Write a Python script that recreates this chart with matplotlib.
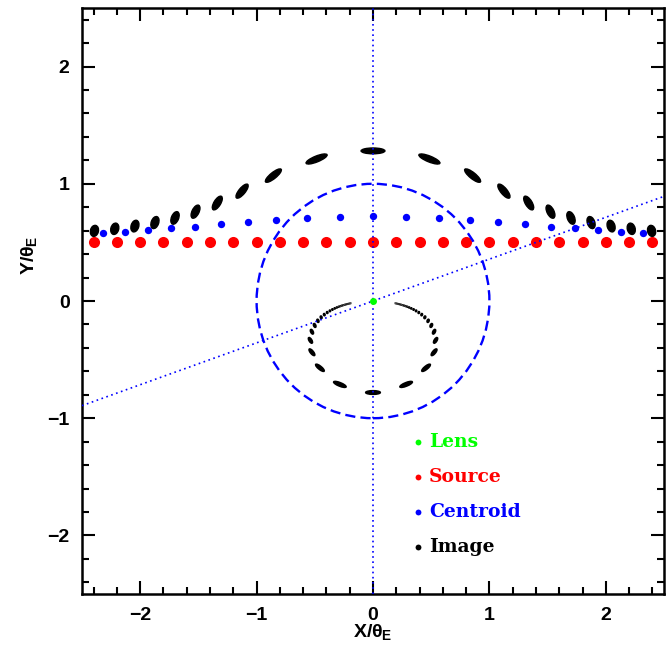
import numpy as np
import matplotlib.pyplot as plt
from matplotlib.patches import Ellipse, Circle
from matplotlib.ticker import MultipleLocator

plt.rcParams['font.family'] = 'Liberation Sans'
plt.rcParams['font.weight'] = 'bold'
plt.rcParams['mathtext.fontset'] = 'custom'
plt.rcParams['mathtext.rm'] = 'Liberation Sans:bold'
plt.rcParams['mathtext.it'] = 'Liberation Sans:bold'
plt.rcParams['mathtext.bf'] = 'Liberation Sans:bold'

# source track (y = 0.5)
src_x = [-2.4, -2.2, -2.0, -1.8, -1.6, -1.4, -1.2, -1.0, -0.8, -0.6, -0.4, -0.2, 0.0,
         0.2, 0.4, 0.6, 0.8, 1.0, 1.2, 1.4, 1.6, 1.8, 2.0, 2.2, 2.4]
src_y = 0.5

# light centroid positions
cen_x = [-2.3200, -2.1279, -1.9326, -1.7325, -1.5252, -1.3077, -1.0768, -0.8299, -0.5660, -0.2873, 0.0,
         0.2873, 0.5660, 0.8299, 1.0768, 1.3077, 1.5252, 1.7325, 1.9326, 2.1279, 2.3200]
cen_y = [0.5800, 0.5911, 0.6040, 0.6188, 0.6355, 0.6538, 0.6730, 0.6916, 0.7075, 0.7183, 0.7222,
         0.7183, 0.7075, 0.6916, 0.6730, 0.6538, 0.6355, 0.6188, 0.6040, 0.5911, 0.5800]

# major (outer) images: centre, size along / across the ring, tilt in degrees
maj_x = [-2.3933, -2.2185, -2.0454, -1.8734, -1.7009, -1.5247, -1.3376, -1.1247, -0.8559, -0.4846, 0.0,
         0.4846, 0.8559, 1.1247, 1.3376, 1.5247, 1.7009, 1.8734, 2.0454, 2.2185, 2.3933]
maj_y = [0.5983, 0.6162, 0.6392, 0.6691, 0.7087, 0.7623, 0.8360, 0.9373, 1.0699, 1.2116, 1.2808,
         1.2116, 1.0699, 0.9373, 0.8360, 0.7623, 0.7087, 0.6691, 0.6392, 0.6162, 0.5983]
maj_w = [0.0957, 0.0986, 0.1023, 0.1071, 0.1134, 0.1220, 0.1338, 0.1500, 0.1712, 0.1938, 0.2049,
         0.1938, 0.1712, 0.1500, 0.1338, 0.1220, 0.1134, 0.1071, 0.1023, 0.0986, 0.0957]
maj_h = [0.0687, 0.0673, 0.0657, 0.0639, 0.0618, 0.0595, 0.0571, 0.0546, 0.0522, 0.0504, 0.0497,
         0.0504, 0.0522, 0.0546, 0.0571, 0.0595, 0.0618, 0.0639, 0.0657, 0.0673, 0.0687]
maj_ang = [76.0, 74.5, 72.6, 70.3, 67.4, 63.4, 58.0, 50.2, 38.7, 21.8, 0.0,
           -21.8, -38.7, -50.2, -58.0, -63.4, -67.4, -70.3, -72.6, -74.5, -76.0]

# minor (inner) images, also from sources outside the frame
min_x = [0.1907, 0.1979, 0.2057, 0.2140, 0.2229, 0.2326, 0.2431, 0.2545, 0.2669, 0.2805, 0.2953, 0.3115, 0.3292,
         0.3487, 0.3700, 0.3933, 0.4185, 0.4454, 0.4734, 0.5009, 0.5247, 0.5376, 0.5247, 0.4559, 0.2846, 0.0,
         -0.2846, -0.4559, -0.5247, -0.5376, -0.5247, -0.5009, -0.4734, -0.4454, -0.4185, -0.3933, -0.3700, -0.3487,
         -0.3292, -0.3115, -0.2953, -0.2805, -0.2669, -0.2545, -0.2431, -0.2326, -0.2229, -0.2140, -0.2057, -0.1979, -0.1907]
min_y = [-0.0191, -0.0206, -0.0224, -0.0243, -0.0265, -0.0291, -0.0320, -0.0354, -0.0393, -0.0438, -0.0492, -0.0556, -0.0633,
         -0.0726, -0.0841, -0.0983, -0.1163, -0.1392, -0.1691, -0.2087, -0.2623, -0.3360, -0.4373, -0.5699, -0.7116, -0.7808,
         -0.7116, -0.5699, -0.4373, -0.3360, -0.2623, -0.2087, -0.1691, -0.1392, -0.1163, -0.0983, -0.0841, -0.0726,
         -0.0633, -0.0556, -0.0492, -0.0438, -0.0393, -0.0354, -0.0320, -0.0291, -0.0265, -0.0243, -0.0224, -0.0206, -0.0191]
min_w = [0.0031, 0.0033, 0.0036, 0.0039, 0.0042, 0.0047, 0.0051, 0.0057, 0.0063, 0.0070, 0.0079, 0.0089, 0.0101,
         0.0116, 0.0135, 0.0157, 0.0186, 0.0223, 0.0271, 0.0334, 0.0420, 0.0538, 0.0700, 0.0912, 0.1138, 0.1249,
         0.1138, 0.0912, 0.0700, 0.0538, 0.0420, 0.0334, 0.0271, 0.0223, 0.0186, 0.0157, 0.0135, 0.0116,
         0.0101, 0.0089, 0.0079, 0.0070, 0.0063, 0.0057, 0.0051, 0.0047, 0.0042, 0.0039, 0.0036, 0.0033, 0.0031]
min_h = [0.0028, 0.0030, 0.0033, 0.0035, 0.0038, 0.0042, 0.0045, 0.0050, 0.0054, 0.0060, 0.0066, 0.0073, 0.0081,
         0.0090, 0.0101, 0.0113, 0.0127, 0.0143, 0.0161, 0.0182, 0.0205, 0.0229, 0.0254, 0.0278, 0.0296, 0.0303,
         0.0296, 0.0278, 0.0254, 0.0229, 0.0205, 0.0182, 0.0161, 0.0143, 0.0127, 0.0113, 0.0101, 0.0090,
         0.0081, 0.0073, 0.0066, 0.0060, 0.0054, 0.0050, 0.0045, 0.0042, 0.0038, 0.0035, 0.0033, 0.0030, 0.0028]
min_ang = [84.3, 84.1, 83.8, 83.5, 83.2, 82.9, 82.5, 82.1, 81.6, 81.1, 80.5, 79.9, 79.1,
           78.2, 77.2, 76.0, 74.5, 72.6, 70.3, 67.4, 63.4, 58.0, 50.2, 38.7, 21.8, 0.0,
           -21.8, -38.7, -50.2, -58.0, -63.4, -67.4, -70.3, -72.6, -74.5, -76.0, -77.2, -78.2,
           -79.1, -79.9, -80.5, -81.1, -81.6, -82.1, -82.5, -82.9, -83.2, -83.5, -83.8, -84.1, -84.3]

einstein_r = 1.0
ref_src = (1.4, 0.5)   # source position the dotted line points at

legend_labels = ['Lens', 'Source', 'Centroid', 'Image']
legend_colors = ['#00ff00', '#ff0000', '#0000ff', '#000000']

fig = plt.figure(figsize=(6.66, 6.52), dpi=100)
ax = fig.add_axes([82/666, 58/652, 582/666, 586/652])

ax.plot(src_x, [src_y]*len(src_x), 'o', color='#ff0000', ms=8, mec='none', zorder=2)
ax.plot(cen_x, cen_y, 'o', color='#0000ff', ms=5.3, mec='none', zorder=2)

for x, y, w, h, a in zip(maj_x, maj_y, maj_w, maj_h, maj_ang):
    ax.add_patch(Ellipse((x, y), w, h, angle=a, fc='black', ec='black', lw=1.0, zorder=3))
for x, y, w, h, a in zip(min_x, min_y, min_w, min_h, min_ang):
    ax.add_patch(Ellipse((x, y), w, h, angle=a, fc='black', ec='black', lw=1.2, zorder=3))

ax.add_patch(Circle((0, 0), einstein_r, fill=False, ec='#0000ff', lw=1.7,
                    ls=(0, (4.3, 2.2)), zorder=4))
ax.axvline(0, color='#0000ff', lw=1.2, ls=(0, (1, 2.1)), zorder=5)
ax.axline((0, 0), ref_src, color='#0000ff', lw=1.2, ls=(0, (1, 2.1)), zorder=5)
ax.plot(0, 0, 'o', color='#00ff00', ms=5, mec='none', zorder=6)

for i, (lab, col) in enumerate(zip(legend_labels, legend_colors)):
    yy = -1.2 - 0.3*i
    ax.plot(0.39, yy, 'o', color=col, ms=4.2, mec='none')
    ax.text(0.48, yy, lab, color=col, fontsize=13.5, fontweight='bold',
            family='DejaVu Serif', va='center', ha='left')

ax.set_xlim(-2.5, 2.5)
ax.set_ylim(-2.5, 2.5)
ax.xaxis.set_major_locator(MultipleLocator(1))
ax.yaxis.set_major_locator(MultipleLocator(1))
ax.xaxis.set_minor_locator(MultipleLocator(0.2))
ax.yaxis.set_minor_locator(MultipleLocator(0.2))
ax.tick_params(which='both', direction='in', top=True, right=True, width=1.5, labelsize=14)
ax.tick_params(which='major', length=9.5, pad=9)
ax.tick_params(which='minor', length=4.7)
for s in ax.spines.values():
    s.set_linewidth(1.8)

ax.set_xlabel(r'$X/\theta_E$', fontsize=14)
ax.set_ylabel(r'$Y/\theta_E$', fontsize=14)
ax.xaxis.set_label_coords(0.5, -0.048)
ax.yaxis.set_label_coords(-0.074, 0.578)

fig.savefig('out.png', dpi=100)
